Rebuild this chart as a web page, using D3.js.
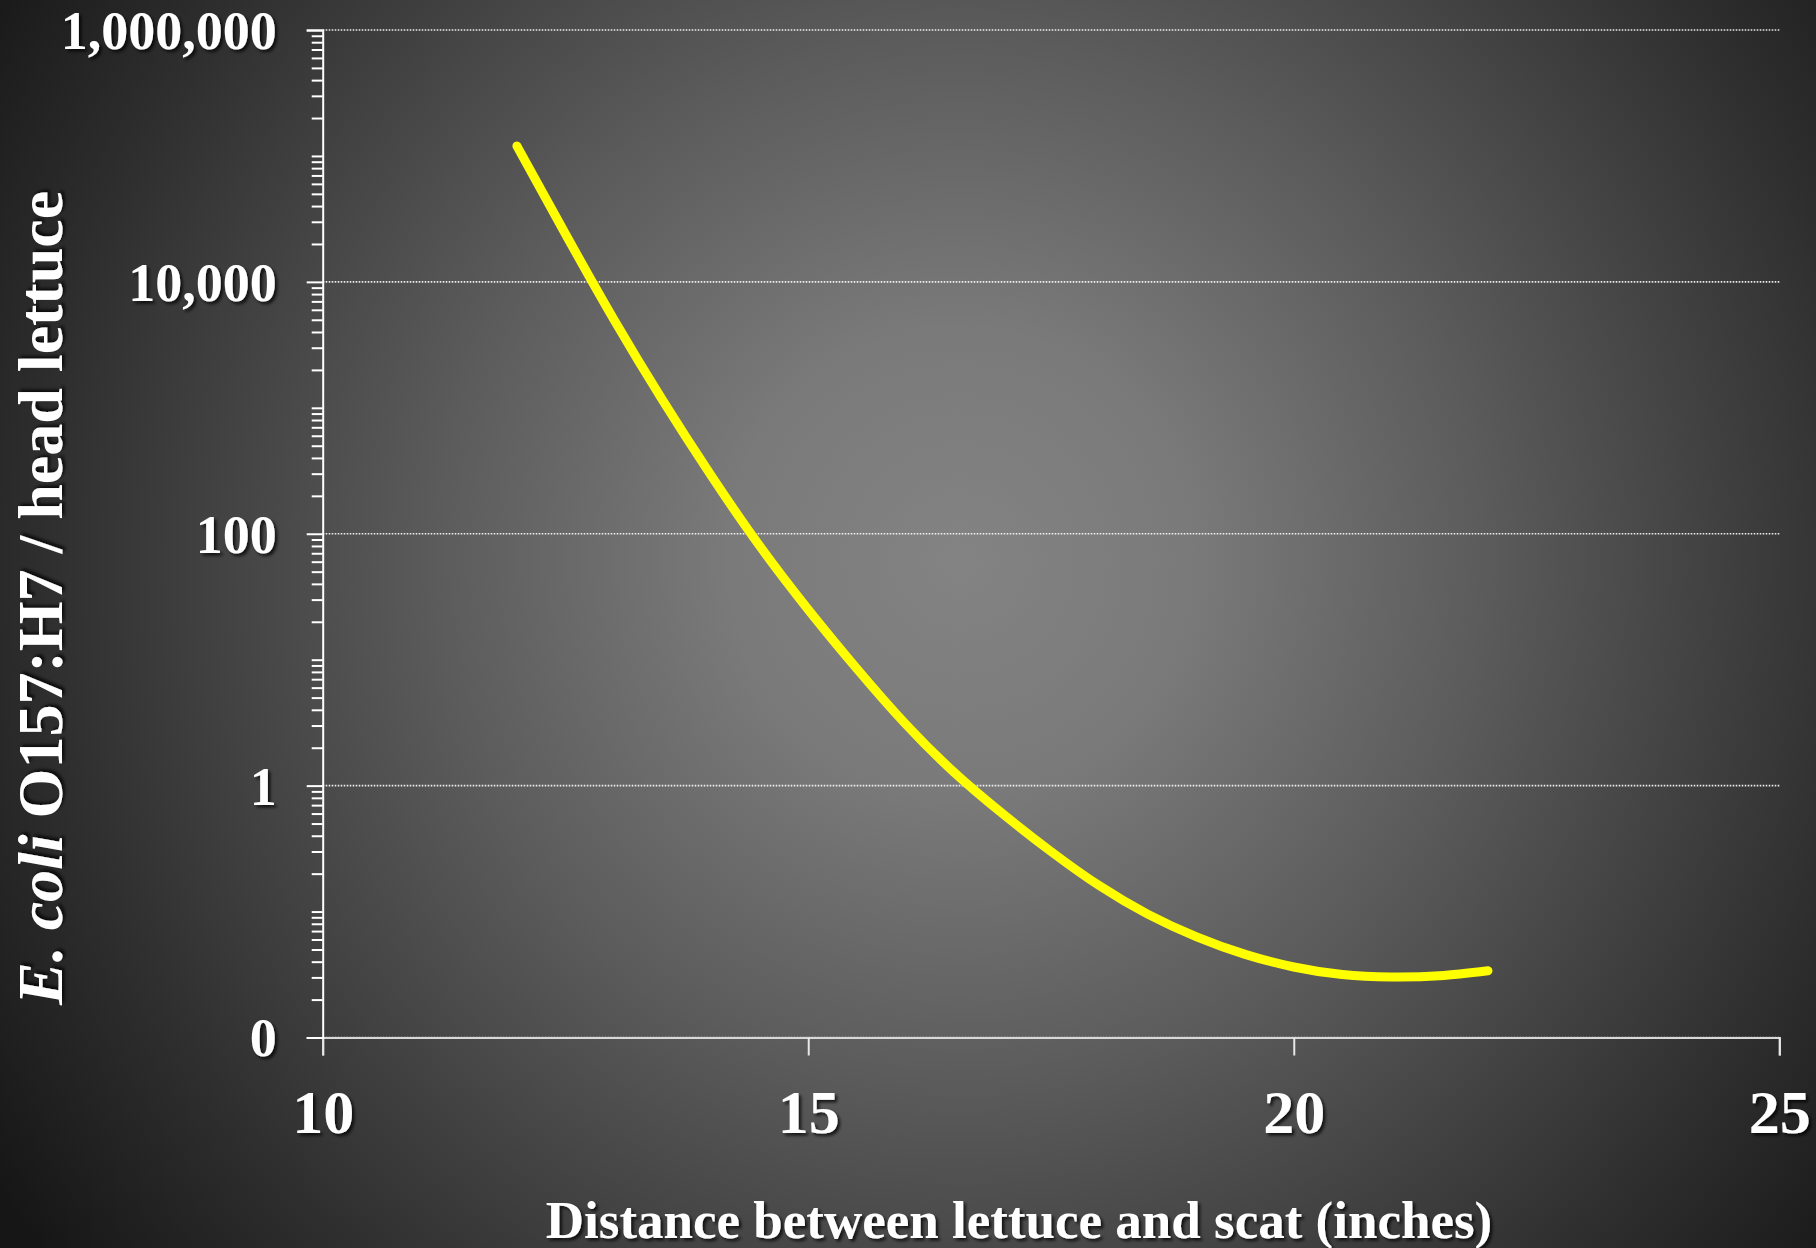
<!DOCTYPE html>
<html>
<head>
<meta charset="utf-8">
<script src="https://cdn.jsdelivr.net/npm/d3@7"></script>
<style>
  html, body { margin: 0; padding: 0; background: #222; }
  svg { display: block; }
  text { font-family: "Liberation Serif", "Times New Roman", serif; font-weight: bold; fill: #ffffff; }
</style>
</head>
<body>
<svg id="chart" width="1816" height="1248"></svg>
<script>
// ---- data ----
const distance = [12, 12.5, 13, 13.5, 14, 14.5, 15, 15.5, 16, 16.5, 17, 17.5, 18, 18.5, 19, 19.5, 20, 20.5, 21, 21.5, 22];
const ecoli = [120000, 24000, 5000, 1150, 290, 80, 25, 8.5, 3.1, 1.28, 0.60, 0.30, 0.16, 0.095, 0.063, 0.0457, 0.0363, 0.0316, 0.0302, 0.0309, 0.0339];
const xTickValues = [10, 15, 20, 25];
const yMajorTicks = [0.01, 1, 100, 10000, 1000000];
const yDomain = [0.01, 1000000];
const xDomain = [10, 25];
const xTitle = "Distance between lettuce and scat (inches)";
const yTitleItalic = "E. coli";
const yTitleRest = " O157:H7 / head lettuce";

(function () {
// ---- layout ----
const W = 1816, H = 1248;
const plotLeft = 322.7, plotRight = 1779.3, plotTop = 30, plotBottom = 1037.5;

const svg = d3.select("#chart");
const defs = svg.append("defs");

const grad = defs.append("radialGradient")
  .attr("id", "bg").attr("gradientUnits", "userSpaceOnUse")
  .attr("cx", 960).attr("cy", 560).attr("r", 1150);
[[0, "#838383"], [0.2, "#7a7a7a"], [0.45, "#5c5c5c"], [0.8, "#2e2e2e"], [1, "#161616"]]
  .forEach(([o, c]) => grad.append("stop").attr("offset", o).attr("stop-color", c));

const shadow = defs.append("filter").attr("id", "shadow")
  .attr("x", "-10%").attr("y", "-10%").attr("width", "130%").attr("height", "130%");
shadow.append("feDropShadow").attr("dx", 2.5).attr("dy", 2.5)
  .attr("stdDeviation", 1.5).attr("flood-color", "#000").attr("flood-opacity", 0.75);

svg.append("rect").attr("width", W).attr("height", H).attr("fill", "url(#bg)");

const x = d3.scaleLinear().domain(xDomain).range([plotLeft, plotRight]);
const y = d3.scaleLog().domain(yDomain).range([plotBottom, plotTop]);

// minor tick values: 1..9 × each decade
const yMinorTicks = [];
for (let e = -2; e < 6; e++) {
  for (let m = 1; m <= 9; m++) {
    const v = m * Math.pow(10, e);
    if (!yMajorTicks.some(t => Math.abs(t - v) / v < 1e-9)) yMinorTicks.push(v);
  }
}

// gridlines (dotted)
svg.append("g").selectAll("line").data(yMajorTicks).join("line")
  .attr("x1", plotLeft).attr("x2", plotRight)
  .attr("y1", d => y(d)).attr("y2", d => y(d))
  .attr("stroke", "#ffffff").attr("stroke-width", 1.6)
  .attr("stroke-dasharray", "1.6,1.4").attr("opacity", 0.9);

// x axis
const xAxis = svg.append("g").attr("transform", `translate(0,${plotBottom})`)
  .call(d3.axisBottom(x).tickValues(xTickValues).tickSize(18).tickFormat(d3.format("d")));
xAxis.select(".domain").attr("stroke", "#d8d8d8").attr("stroke-width", 2);
xAxis.selectAll(".tick line").attr("stroke", "#e8e8e8").attr("stroke-width", 2);
xAxis.selectAll(".tick text")
  .attr("y", 95).attr("dy", 0)
  .style("font-size", "62px").attr("fill", "#fff")
  .attr("filter", "url(#shadow)");

// y axis minor ticks
const yMinor = svg.append("g").attr("transform", `translate(${plotLeft},0)`)
  .call(d3.axisLeft(y).tickValues(yMinorTicks).tickSize(11).tickFormat(""));
yMinor.select(".domain").remove();
yMinor.selectAll(".tick line").attr("stroke", "#ffffff").attr("stroke-width", 2);

// y axis major ticks + labels
const yAxis = svg.append("g").attr("transform", `translate(${plotLeft},0)`)
  .call(d3.axisLeft(y).tickValues(yMajorTicks).tickSize(16).tickPadding(30)
    .tickFormat(d3.format(",.0f")));
yAxis.select(".domain").attr("stroke", "#ffffff").attr("stroke-width", 2);
yAxis.selectAll(".tick line").attr("stroke", "#ffffff").attr("stroke-width", 2);
yAxis.selectAll(".tick text")
  .style("font-size", "54px").attr("fill", "#fff")
  .attr("dy", "0.34em")
  .attr("filter", "url(#shadow)");

// curve
const data = distance.map((d, i) => ({ x: d, y: ecoli[i] }));
svg.append("path").datum(data)
  .attr("fill", "none").attr("stroke", "#ffff00")
  .attr("stroke-width", 9).attr("stroke-linecap", "round").attr("stroke-linejoin", "round")
  .attr("d", d3.line().x(d => x(d.x)).y(d => y(d.y)).curve(d3.curveNatural));

// axis titles
svg.append("text")
  .attr("x", 1019).attr("y", 1238).attr("text-anchor", "middle")
  .style("font-size", "53px").attr("filter", "url(#shadow)")
  .text(xTitle);

const yt = svg.append("text")
  .attr("transform", "translate(62,598) rotate(-90)")
  .attr("text-anchor", "middle")
  .style("font-size", "64px").attr("filter", "url(#shadow)");
yt.append("tspan").style("font-style", "italic").text(yTitleItalic);
yt.append("tspan").text(yTitleRest);
})();
</script>
</body>
</html>
